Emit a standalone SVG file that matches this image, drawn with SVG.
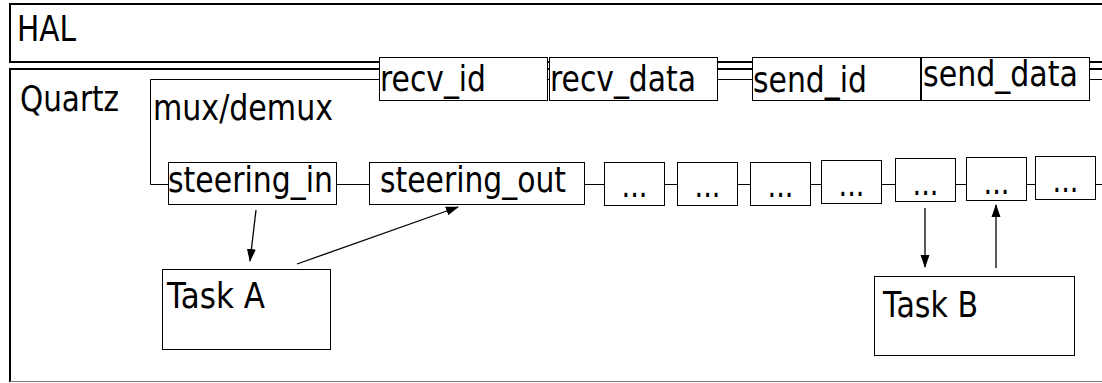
<svg xmlns="http://www.w3.org/2000/svg" width="1102" height="383" viewBox="0 0 1102 383">
  <style>
    .layer { fill: #fff; stroke: #000; stroke-width: 2; }
    .box { fill: #fff; stroke: #000; stroke-width: 1; }
    .lbl { font-family: "DejaVu Sans", "Liberation Sans", sans-serif; font-size: 36px; fill: #000; }
    .dots { font-family: "DejaVu Sans", "Liberation Sans", sans-serif; font-size: 34px; fill: #000; text-anchor: middle; }
    .wire { fill: none; stroke: #000; stroke-width: 1; }
    .arrow { fill: none; stroke: #000; stroke-width: 1.3; marker-end: url(#head); }
  </style>
  <defs>
    <marker id="head" markerUnits="userSpaceOnUse" markerWidth="13" markerHeight="10" refX="12" refY="5" orient="auto">
      <path d="M0,0.5 L13,5 L0,9.5 Z" fill="#000"/>
    </marker>
  </defs>

  <!-- outer layers -->
  <g id="hal">
    <rect class="layer" x="10" y="4" width="1100" height="58"/>
    <text class="lbl" x="17" y="41" textLength="59" lengthAdjust="spacingAndGlyphs">HAL</text>
  </g>
  <g id="quartz">
    <path d="M1102,69 H10 V382" fill="#fff" stroke="#000" stroke-width="2"/>
    <path d="M10,381.5 H1102" fill="none" stroke="#777" stroke-width="1"/>
    <text class="lbl" x="20" y="111" textLength="99" lengthAdjust="spacingAndGlyphs">Quartz</text>
  </g>

  <!-- mux/demux bus, chain links and task arrows -->
  <g id="connectors">
    <path class="wire" d="M380,79.5 H150.5 V184.5 H1102"/>
    <path class="wire" d="M380,79.5 H1102"/>
    <line class="arrow" x1="256" y1="210" x2="250" y2="261"/>
    <line class="arrow" x1="297" y1="264" x2="458" y2="207"/>
    <line class="arrow" x1="925" y1="208" x2="925" y2="267"/>
    <line class="arrow" x1="996" y1="268" x2="996" y2="205"/>
  </g>

  <g id="mux-demux">
    <text class="lbl" x="153" y="120" textLength="180" lengthAdjust="spacingAndGlyphs">mux/demux</text>
  </g>

  <!-- HAL interface registers -->
  <g id="recv-id">
    <rect class="box" x="379.5" y="57.5" width="168" height="43"/>
    <text class="lbl" x="380" y="91" textLength="106" lengthAdjust="spacingAndGlyphs">recv_id</text>
  </g>
  <g id="recv-data">
    <rect class="box" x="549.5" y="57.5" width="168" height="43"/>
    <text class="lbl" x="550" y="91" textLength="146" lengthAdjust="spacingAndGlyphs">recv_data</text>
  </g>
  <g id="send-id">
    <rect class="box" x="752.5" y="57.5" width="168" height="43"/>
    <text class="lbl" x="753" y="92" textLength="114" lengthAdjust="spacingAndGlyphs">send_id</text>
  </g>
  <g id="send-data">
    <rect class="box" x="921.5" y="57.5" width="168" height="43"/>
    <text class="lbl" x="923" y="86" textLength="155" lengthAdjust="spacingAndGlyphs">send_data</text>
  </g>

  <!-- steering chain -->
  <g id="steering-in">
    <rect class="box" x="168.5" y="162.5" width="168" height="42"/>
    <text class="lbl" x="168" y="192" textLength="165" lengthAdjust="spacingAndGlyphs">steering_in</text>
  </g>
  <g id="steering-out">
    <rect class="box" x="369.5" y="162.5" width="215" height="42"/>
    <text class="lbl" x="380" y="192" textLength="186" lengthAdjust="spacingAndGlyphs">steering_out</text>
  </g>
  <g id="slot-1">
    <rect class="box" x="604.5" y="162.5" width="60" height="43"/>
    <text class="dots" x="634.5" y="197" textLength="26" lengthAdjust="spacingAndGlyphs">...</text>
  </g>
  <g id="slot-2">
    <rect class="box" x="677.5" y="162.5" width="60" height="43"/>
    <text class="dots" x="707.5" y="197" textLength="26" lengthAdjust="spacingAndGlyphs">...</text>
  </g>
  <g id="slot-3">
    <rect class="box" x="750.5" y="162.5" width="60" height="43"/>
    <text class="dots" x="780.5" y="197" textLength="26" lengthAdjust="spacingAndGlyphs">...</text>
  </g>
  <g id="slot-4">
    <rect class="box" x="821.5" y="160.5" width="60" height="43"/>
    <text class="dots" x="851.5" y="196" textLength="26" lengthAdjust="spacingAndGlyphs">...</text>
  </g>
  <g id="slot-5">
    <rect class="box" x="895.5" y="158.5" width="60" height="43"/>
    <text class="dots" x="925.5" y="195" textLength="26" lengthAdjust="spacingAndGlyphs">...</text>
  </g>
  <g id="slot-6">
    <rect class="box" x="966.5" y="157.5" width="60" height="43"/>
    <text class="dots" x="996.5" y="194" textLength="26" lengthAdjust="spacingAndGlyphs">...</text>
  </g>
  <g id="slot-7">
    <rect class="box" x="1035.5" y="156.5" width="60" height="43"/>
    <text class="dots" x="1065.5" y="192" textLength="26" lengthAdjust="spacingAndGlyphs">...</text>
  </g>

  <!-- tasks -->
  <g id="task-a">
    <rect class="box" x="162.5" y="269.5" width="168" height="80"/>
    <text class="lbl" x="167" y="308" textLength="98" lengthAdjust="spacingAndGlyphs">Task A</text>
  </g>
  <g id="task-b">
    <rect class="box" x="874.5" y="276.5" width="200" height="79"/>
    <text class="lbl" x="883" y="317" textLength="95" lengthAdjust="spacingAndGlyphs">Task B</text>
  </g>
</svg>
